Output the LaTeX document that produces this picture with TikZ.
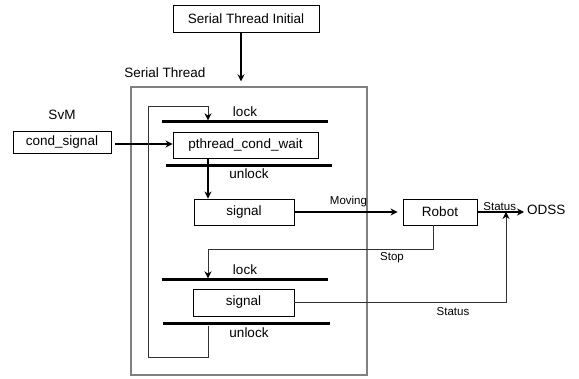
\documentclass[tikz,border=0pt]{standalone}
\usepackage{fontspec}
\setmainfont{Liberation Sans}
\usetikzlibrary{arrows.meta,calc}
\begin{document}
\begin{tikzpicture}[x=1pt,y=-1pt,
  box/.style={draw,line width=0.9pt,inner sep=0pt,font=\fontsize{13.5}{15}\selectfont},
  txt/.style={inner sep=0pt,font=\fontsize{13.5}{15}\selectfont},
  lbl/.style={inner sep=0pt,font=\fontsize{11.5}{13}\selectfont},
  bar/.style={fill=black,draw=none,minimum height=3pt,inner sep=0pt},
  arr/.style={line width=1.5pt,-{Stealth[length=7pt,width=7pt]}},
  tarr/.style={line width=1pt,draw=black!80,-{Stealth[length=7pt,width=7pt,color=black]}}]
\useasboundingbox (0,0) rectangle (579,379);
% boxes
\node[box,minimum width=146,minimum height=27] (init) at (246,18.5) {Serial Thread Initial};
\node[draw=black!50,line width=1.3pt,minimum width=236,minimum height=288,inner sep=0pt] (outer) at (249,231) {};
\node[txt] (stlabel) at (165,73) {Serial Thread};
\node[txt] (svm) at (62,115) {SvM};
\node[box,minimum width=98,minimum height=22] (condsig) at (62,142) {cond\_signal};
\node[box,minimum width=145,minimum height=26] (pcw) at (245.5,145) {pthread\_cond\_wait};
\node[box,minimum width=100,minimum height=26] (sig1) at (244,212) {signal};
\node[box,minimum width=74,minimum height=26] (robot) at (440,212) {Robot};
\node[box,minimum width=101,minimum height=27] (sig2) at (243.5,302.5) {signal};
\node[txt,inner sep=3pt,anchor=west] (odss) at (524,210) {ODSS};
% bars
\node[bar,minimum width=166] (lock1) at (245,122) {};
\node[bar,minimum width=166] (unlock1) at (249,166) {};
\node[bar,minimum width=166] (lock2) at (245,280) {};
\node[bar,minimum width=167] (unlock2) at (246.5,324) {};
\node[txt] (lockt1) at (245,112) {lock};
\node[txt] (unlockt1) at (249,174) {unlock};
\node[txt] (lockt2) at (245,270) {lock};
\node[txt] (unlockt2) at (249,333) {unlock};
% helper coordinates
\coordinate (loopx) at (208,0);
\coordinate (lb) at (148,358);
\coordinate (lt) at (148,107);
\coordinate (stopx) at (433,0);
\coordinate (stopc) at (208,250);
\coordinate (statx) at (506,0);
% connectors
\draw[arr,shorten >=5pt] (init.south -| 241,0) -- (outer.north -| 241,0);
\draw[arr,shorten <=4pt] (condsig.east |- 0,144) -- (pcw.west |- 0,144);
\draw[tarr] (unlock2.south -| loopx) -- (loopx |- lb) -- (lb) -- (lt) -| (lock1.north -| loopx);
\draw[arr] (pcw.south -| loopx) -- (sig1.north -| loopx);
\draw[arr,shorten >=5pt] (sig1.east) -- node[lbl,above=4pt] (moving) {Moving} (robot.west);
\draw[arr] (robot.east) -- node[lbl,above=1pt,xshift=-1pt] (status1) {Status} (odss.west |- robot.east);
\draw[tarr] (robot.south -| stopx) |- (stopc) -- (lock2.north -| loopx);
\node[lbl] (stop) at (392,258) {Stop};
\draw[tarr] (sig2.east) -| (statx |- robot.east);
\node[lbl] (status2) at (453,312) {Status};
\end{tikzpicture}
\end{document}
